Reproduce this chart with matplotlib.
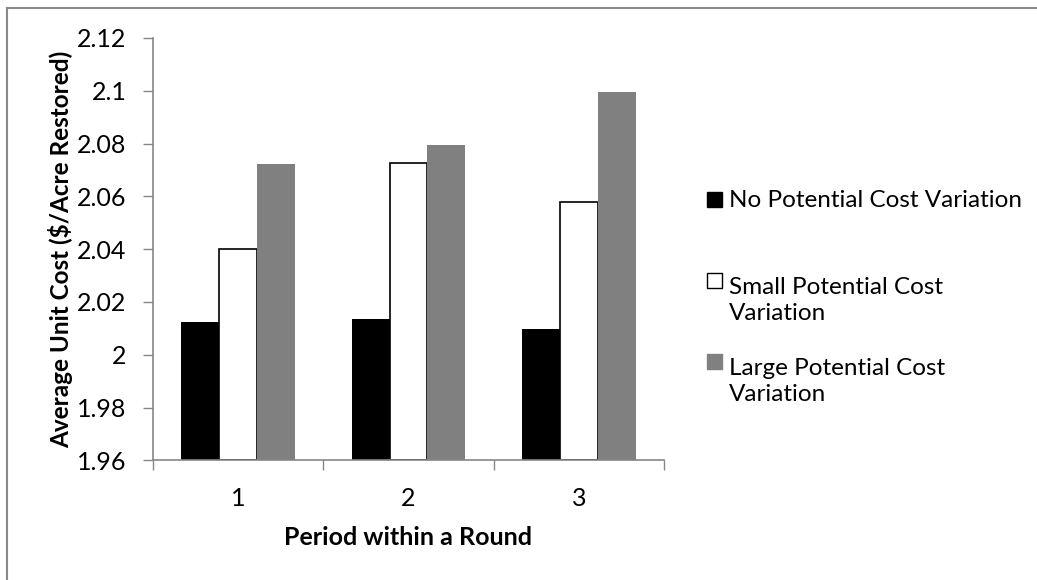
import numpy as np
import matplotlib.pyplot as plt
from matplotlib.lines import Line2D
from matplotlib.patches import Rectangle

plt.rcParams['font.family'] = ['Lato', 'DejaVu Sans']

periods = ['1', '2', '3']
series = ['No Potential Cost Variation',
          'Small Potential Cost\nVariation',
          'Large Potential Cost\nVariation']
colors = ['black', 'white', '#808080']
no_var = [2.0124, 2.0134, 2.0097]
small_var = [2.0400, 2.0726, 2.0578]
large_var = [2.0722, 2.0795, 2.0996]

W, H = 1037, 580
fig = plt.figure(figsize=(W / 100, H / 100), dpi=100)
ax = fig.add_axes([0.1475, 0.2064, 0.4928, 0.7281])

x = np.arange(len(periods))
w = 1 / 4.5
base = 1.96
ax.bar(x - w, np.array(no_var) - base, w, bottom=base, color=colors[0])
ax.bar(x, np.array(small_var) - base, w, bottom=base, color=colors[1],
       edgecolor='black', linewidth=1.2)
ax.bar(x + w, np.array(large_var) - base, w, bottom=base, color=colors[2])

ax.set_xlim(-0.5, 2.5)
ax.set_ylim(1.96, 2.12)
ax.set_yticks(np.arange(1.96, 2.1201, 0.02))
ax.set_yticklabels(['1.96', '1.98', '2', '2.02', '2.04', '2.06', '2.08', '2.1', '2.12'])
ax.set_xticks(x)
ax.set_xticklabels(periods)
ax.set_xticks([-0.5, 0.5, 1.5, 2.5], minor=True)
ax.tick_params(axis='x', which='major', length=0, pad=19, labelsize=18)
ax.tick_params(axis='x', which='minor', length=7, color='#868686', width=1)
ax.tick_params(axis='y', length=7, color='#868686', width=1, labelsize=18, pad=12)

for s in ['top', 'right']:
    ax.spines[s].set_visible(False)
for s in ['left', 'bottom']:
    ax.spines[s].set_color('#868686')
    ax.spines[s].set_linewidth(1.2)

ax.set_ylabel('Average Unit Cost ($/Acre Restored)', fontsize=17.5, fontweight='bold')
ax.yaxis.set_label_coords(-0.156, 0.5)
ax.set_xlabel('Period within a Round', fontsize=18, fontweight='bold')
ax.xaxis.set_label_coords(0.5, -0.155)

# legend drawn by hand so the key squares sit on the first text line
key_top = [192, 273, 354]
line_gap = 32
for label, c, top in zip(series, colors, key_top):
    fig.add_artist(Rectangle((707 / W, 1 - (top + 15) / H), 15 / W, 15 / H,
                             transform=fig.transFigure, facecolor=c,
                             edgecolor='black' if c == 'white' else c, linewidth=1))
    last_base = top + 15 + line_gap * label.count('\n')
    fig.text(729 / W, 1 - last_base / H, label, fontsize=17.5, va='baseline',
             ha='left', linespacing=1.32)

# chart area border on the left and top
fig.add_artist(Line2D([0.0068, 0.0068], [0, 0.986], transform=fig.transFigure,
                      color='#8a8a8a', linewidth=1.5))
fig.add_artist(Line2D([0.0068, 1], [0.986, 0.986], transform=fig.transFigure,
                      color='#8a8a8a', linewidth=1.5))

fig.savefig('out.png', dpi=100)
